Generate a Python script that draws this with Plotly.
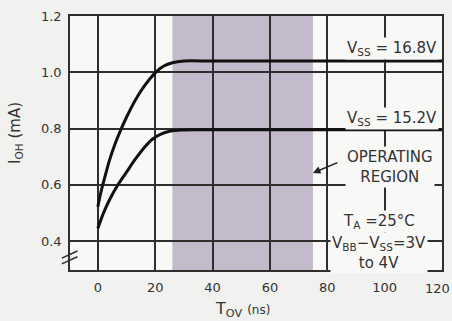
import plotly.graph_objects as go

# ---- data ----
t_ov_upper = [0, 1, 2, 4, 6, 8, 10, 13, 16, 20, 23, 26, 30, 40, 120]
ioh_upper = [0.522, 0.57, 0.61, 0.685, 0.745, 0.795, 0.84, 0.90, 0.948, 0.998, 1.022, 1.034, 1.04, 1.04, 1.04]
t_ov_lower = [0, 2, 4, 7, 10, 13, 16, 19, 22, 25, 29, 35, 120]
ioh_lower = [0.445, 0.50, 0.545, 0.60, 0.645, 0.69, 0.73, 0.762, 0.78, 0.79, 0.795, 0.796, 0.796]
region_bounds = [26, 75]
x_ticks = [0, 20, 40, 60, 80, 100, 120]
y_ticks = [0.4, 0.6, 0.8, 1.0, 1.2]

FONT = "DejaVu Sans"
TXT = "#333333"
GRID = "#2e2e2e"
PLOT_BG = "#f8f8f6"

fig = go.Figure()
for xs, ys in [(t_ov_upper, ioh_upper), (t_ov_lower, ioh_lower)]:
    fig.add_trace(go.Scatter(x=xs, y=ys, mode="lines",
                             line=dict(color="#111111", width=3, shape="spline", smoothing=0.7),
                             showlegend=False, hoverinfo="skip"))

# operating region shading
fig.add_shape(type="rect", xref="x", yref="paper", x0=region_bounds[0], x1=region_bounds[1],
              y0=0, y1=1, fillcolor="#c3bbcb", line_width=0, layer="below")

# axis break mark
for y0, y1 in [(0.047, 0.075), (0.024, 0.052)]:
    fig.add_shape(type="line", xref="paper", yref="paper", x0=-0.022, x1=0.02, y0=y0, y1=y1,
                  line=dict(color=GRID, width=1.5))

ann_font = dict(family=FONT, size=15, color=TXT)
labels = [
    ("V<sub>SS</sub> = 16.8V", 102.4, 1.085),
    ("V<sub>SS</sub> = 15.2V", 102.4, 0.837),
    ("OPERATING<br>REGION", 102.0, 0.663),
    ("T<sub>A</sub> =25°C", 98.2, 0.469),
    ("V<sub>BB</sub>−V<sub>SS</sub>=3V<br>to 4V", 98.0, 0.357),
]
for text, x, y in labels:
    fig.add_annotation(text=text, x=x, y=y, xref="x", yref="y", showarrow=False,
                       font=ann_font, bgcolor=PLOT_BG, borderpad=1)

# arrow to operating region
fig.add_annotation(text="", x=region_bounds[1], y=0.642, xref="x", yref="y",
                   ax=26, ay=-11, showarrow=True, arrowhead=2, arrowsize=1,
                   arrowwidth=1.5, arrowcolor="#222222")

# last x tick label, kept inside the page like the reference
fig.add_annotation(text=str(x_ticks[-1]), x=x_ticks[-1], y=0, xref="x", yref="paper",
                   xanchor="center", yanchor="top", yshift=-9, xshift=-5, showarrow=False,
                   font=dict(family=FONT, size=13, color=TXT))

# axis titles
fig.add_annotation(text="T<sub>OV</sub> <span style='font-size:12px'>(ns)</span>",
                   xref="paper", yref="paper", x=0.465, y=-0.157, showarrow=False,
                   xanchor="center", yanchor="middle",
                   font=dict(family=FONT, size=16, color=TXT))
fig.add_annotation(text="I<sub>OH</sub> (mA)", xref="paper", yref="paper",
                   x=-0.145, y=0.54, textangle=-90, showarrow=False,
                   xanchor="center", yanchor="middle",
                   font=dict(family=FONT, size=15, color=TXT))

axis_common = dict(showgrid=True, gridcolor=GRID, gridwidth=1.5, showline=True,
                   linecolor=GRID, linewidth=1.5, mirror=True, zeroline=False,
                   ticks="", tickfont=dict(family=FONT, size=13, color=TXT),
                   automargin=False)
fig.update_xaxes(range=[-9.7, 120], tickvals=x_ticks[:-1], ticklabelstandoff=5, **axis_common)
fig.update_yaxes(range=[0.297, 1.2], tickvals=y_ticks, tickformat=".1f", ticklabelstandoff=4, **axis_common)

fig.update_layout(width=452, height=321, margin=dict(l=70, r=10, t=16, b=51),
                  paper_bgcolor="#f1f1ef", plot_bgcolor=PLOT_BG)

fig.write_html("out.html")
